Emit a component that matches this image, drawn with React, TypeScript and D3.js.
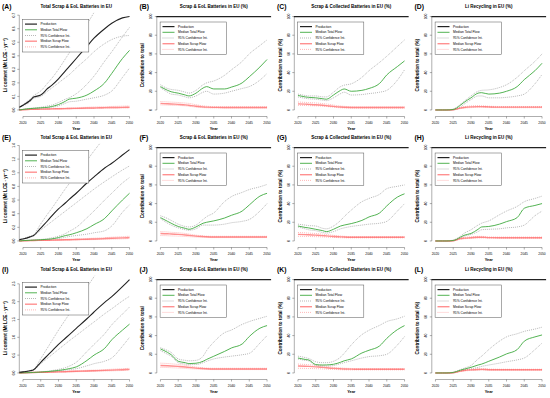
import * as d3 from 'd3'

// sample years shared by the panels (totals start one year earlier)
const YEARS = [2020, 2022, 2023, 2025, 2027, 2028, 2030, 2032, 2033, 2035, 2038, 2040, 2043, 2045, 2048, 2050]
const YEARS_T = [2019, ...YEARS]
const X_TICKS = [2020, 2025, 2030, 2035, 2040, 2045, 2050]
const PCT_TICKS = [0, 20, 40, 60, 80, 100]
const A_TICKS = [0, 0.1, 0.2, 0.3, 0.4, 0.5, 0.6, 0.7]
const E_TICKS = [0, 0.2, 0.4, 0.6, 0.8, 1.0, 1.2, 1.4]
const I_TICKS = [0, 0.5, 1.0, 1.5, 2.0, 2.5]

const LEGEND_LABELS = ['Production', 'Median Total Flow', '95% Confidence Int.', 'Median Scrap Flow', '95% Confidence Int.']

// (A)
const aProd = [0.02, 0.035, 0.07, 0.095, 0.11, 0.16, 0.18, 0.23, 0.29, 0.32, 0.38, 0.47, 0.53, 0.6, 0.64, 0.68, 0.69]
const aProdUp = [0.02, 0.04, 0.08, 0.105, 0.14, 0.2, 0.23, 0.3, 0.38, 0.42, 0.5, 0.63, 0.72, 0.85, 0.93, 1.05, 1.1]
const aProdLo = [0.02, 0.03, 0.06, 0.085, 0.1, 0.14, 0.16, 0.2, 0.24, 0.26, 0.31, 0.38, 0.43, 0.49, 0.52, 0.545, 0.55]
const aTotal = [0, 0.004, 0.01, 0.012, 0.016, 0.02, 0.025, 0.04, 0.065, 0.08, 0.087, 0.11, 0.14, 0.2, 0.27, 0.38, 0.44]
const aTotalUp = [0, 0.005, 0.012, 0.015, 0.02, 0.03, 0.035, 0.055, 0.08, 0.09, 0.12, 0.19, 0.25, 0.36, 0.43, 0.54, 0.61]
const aTotalLo = [0, 0.003, 0.008, 0.01, 0.013, 0.017, 0.02, 0.03, 0.05, 0.06, 0.065, 0.08, 0.09, 0.11, 0.14, 0.24, 0.31]
const aScrap = [0, 0.002, 0.004, 0.005, 0.006, 0.007, 0.008, 0.009, 0.01, 0.011, 0.012, 0.014, 0.015, 0.017, 0.018, 0.019, 0.02]
const aScrapUp = [0.001, 0.003, 0.005, 0.006, 0.008, 0.009, 0.01, 0.012, 0.014, 0.015, 0.017, 0.02, 0.022, 0.024, 0.026, 0.028, 0.03]
const aScrapLo = [0, 0.001, 0.003, 0.004, 0.005, 0.006, 0.006, 0.007, 0.008, 0.008, 0.009, 0.01, 0.011, 0.012, 0.013, 0.014, 0.014]

// (E)
const eProd = [0.02, 0.03, 0.06, 0.08, 0.19, 0.3, 0.36, 0.47, 0.56, 0.61, 0.7, 0.85, 0.94, 1.07, 1.14, 1.26, 1.34]
const eProdUp = [0.02, 0.035, 0.07, 0.09, 0.25, 0.4, 0.47, 0.62, 0.77, 0.84, 0.98, 1.18, 1.32, 1.52, 1.66, 1.86, 2.0]
const eProdLo = [0.02, 0.03, 0.055, 0.075, 0.16, 0.24, 0.28, 0.36, 0.44, 0.48, 0.56, 0.68, 0.76, 0.87, 0.94, 1.04, 1.1]
const eTotal = [0, 0.005, 0.01, 0.012, 0.018, 0.025, 0.03, 0.05, 0.08, 0.09, 0.12, 0.18, 0.24, 0.33, 0.44, 0.6, 0.7]
const eTotalUp = [0, 0.006, 0.012, 0.015, 0.022, 0.035, 0.045, 0.07, 0.11, 0.14, 0.2, 0.34, 0.44, 0.6, 0.7, 0.85, 0.93]
const eTotalLo = [0, 0.004, 0.008, 0.01, 0.014, 0.02, 0.025, 0.035, 0.055, 0.065, 0.08, 0.1, 0.12, 0.15, 0.22, 0.42, 0.53]
const eScrap = [0, 0.002, 0.005, 0.007, 0.009, 0.011, 0.012, 0.014, 0.017, 0.018, 0.021, 0.026, 0.029, 0.035, 0.039, 0.045, 0.05]
const eScrapUp = [0.001, 0.004, 0.007, 0.009, 0.012, 0.015, 0.017, 0.02, 0.024, 0.026, 0.03, 0.037, 0.041, 0.049, 0.055, 0.063, 0.07]
const eScrapLo = [0, 0.001, 0.003, 0.005, 0.006, 0.008, 0.008, 0.01, 0.012, 0.013, 0.015, 0.018, 0.02, 0.024, 0.027, 0.031, 0.035]

// (I)
const iProd = [0.02, 0.03, 0.06, 0.09, 0.3, 0.5, 0.6, 0.8, 0.98, 1.07, 1.25, 1.52, 1.71, 1.98, 2.14, 2.42, 2.62]
const iProdUp = [0.02, 0.035, 0.07, 0.1, 0.4, 0.72, 0.88, 1.2, 1.5, 1.65, 1.95, 2.4, 2.7, 3.15, 3.45, 3.9, 4.2]
const iProdLo = [0.02, 0.03, 0.055, 0.08, 0.26, 0.42, 0.5, 0.66, 0.82, 0.9, 1.05, 1.28, 1.43, 1.66, 1.8, 2.02, 2.15]
const iTotal = [0, 0.005, 0.01, 0.015, 0.025, 0.04, 0.05, 0.07, 0.1, 0.12, 0.17, 0.35, 0.5, 0.69, 0.93, 1.2, 1.37]
const iTotalUp = [0, 0.006, 0.012, 0.018, 0.03, 0.05, 0.065, 0.1, 0.15, 0.19, 0.3, 0.6, 0.8, 1.1, 1.35, 1.65, 1.85]
const iTotalLo = [0, 0.004, 0.008, 0.012, 0.02, 0.03, 0.04, 0.055, 0.08, 0.09, 0.12, 0.2, 0.26, 0.33, 0.42, 0.75, 1.0]
const iScrap = [0, 0.004, 0.01, 0.014, 0.018, 0.022, 0.025, 0.03, 0.036, 0.04, 0.046, 0.056, 0.062, 0.072, 0.08, 0.092, 0.1]
const iScrapUp = [0.001, 0.006, 0.013, 0.018, 0.024, 0.029, 0.033, 0.04, 0.047, 0.052, 0.06, 0.073, 0.081, 0.094, 0.104, 0.12, 0.13]
const iScrapLo = [0, 0.003, 0.007, 0.01, 0.013, 0.016, 0.018, 0.022, 0.027, 0.03, 0.034, 0.042, 0.046, 0.054, 0.06, 0.069, 0.075]

// (B)
const bTotal = [25, 21, 19.5, 18, 16, 15, 18, 23.5, 25, 22.5, 22.5, 24.5, 29, 35.5, 46, 54]
const bTotalUp = [27, 23, 22, 21, 19, 18, 21, 27, 29, 31, 37, 43, 52, 60, 69, 75]
const bTotalLo = [24, 19, 17, 16, 14, 13, 15, 19, 20, 17, 18, 20, 23, 25, 32, 39]
const bScrap = [7, 6.6, 6.4, 6, 5.5, 5, 4, 3.3, 3, 2.8, 2.7, 2.7, 2.7, 2.7, 2.7, 2.7]
const bScrapUp = [9, 8.6, 8.4, 8, 7.4, 7, 5.6, 4.4, 4, 3.6, 3.5, 3.5, 3.5, 3.5, 3.5, 3.5]
const bScrapLo = [5.5, 5.2, 5, 4.8, 4.4, 4, 3.1, 2.5, 2.3, 2.1, 2, 2, 2, 2, 2, 2]

// (C)
const cTotal = [15.5, 14, 13.5, 13, 12, 11.5, 16, 21, 22.5, 20, 21, 23, 28.5, 37.5, 46.5, 52.5]
const cTotalUp = [17, 15.5, 15, 15, 14, 14, 19, 25, 26.5, 28, 35, 42, 51, 57.5, 68, 75]
const cTotalLo = [14, 12.5, 12, 11.5, 10.5, 10, 13, 17.5, 19, 16, 16.5, 17.5, 19, 21, 32, 43]
const cScrap = [6.5, 6.2, 6, 5.6, 5, 4.6, 3.8, 3.1, 2.9, 2.7, 2.6, 2.6, 2.6, 2.6, 2.6, 2.6]
const cScrapUp = [8.5, 8.1, 7.9, 7.5, 6.8, 6.4, 5.2, 4.2, 3.9, 3.5, 3.4, 3.4, 3.4, 3.4, 3.4, 3.4]
const cScrapLo = [5, 4.8, 4.6, 4.4, 4, 3.7, 3, 2.3, 2.1, 2, 1.9, 1.9, 1.9, 1.9, 1.9, 1.9]

// (D)
const dTotal = [0, 0, 0, 0.5, 5, 8, 13, 18, 18.5, 17, 18, 20, 25, 32.5, 42, 50]
const dTotalUp = [0, 0, 0, 1, 6, 9, 15, 20, 21, 21.5, 24, 27, 35, 42, 52, 60]
const dTotalLo = [0, 0, 0, 0, 3, 6, 11, 15, 15, 13, 13, 13.5, 15, 17, 28, 38]
const dScrap = [0, 0, 0, 0.3, 2, 2.6, 3.3, 3.6, 3.6, 3.3, 3, 3, 3, 3, 3, 3]
const dScrapUp = [0, 0, 0, 0.5, 2.8, 3.5, 4.3, 4.6, 4.5, 4, 3.7, 3.6, 3.6, 3.6, 3.6, 3.6]
const dScrapLo = [0, 0, 0, 0.2, 1.4, 1.9, 2.5, 2.8, 2.8, 2.6, 2.5, 2.4, 2.4, 2.4, 2.4, 2.4]

// (F)
const fTotal = [25, 21, 19, 15.5, 13.5, 12.5, 15, 19, 20, 21.5, 24.5, 27.5, 32, 38.5, 48, 51]
const fTotalUp = [27, 24, 22, 18, 15.5, 15, 17, 23, 26, 30, 42, 47.5, 52, 55, 58, 60.5]
const fTotalLo = [24, 19, 17, 14, 12, 11.5, 13, 17, 17, 17, 18, 19.5, 21, 23, 32, 40]
const fScrap = [8, 7.7, 7.4, 7, 6.4, 6, 5.2, 4.7, 4.5, 4.3, 4.3, 4.3, 4.3, 4.3, 4.3, 4.3]
const fScrapUp = [10, 9.6, 9.3, 8.8, 8, 7.4, 6.2, 5.5, 5.2, 5, 5, 5, 5, 5, 5, 5]
const fScrapLo = [5.8, 5.6, 5.4, 5.2, 4.8, 4.6, 4.2, 3.8, 3.7, 3.6, 3.6, 3.6, 3.6, 3.6, 3.6, 3.6]

// (G)
const gTotal = [16, 14.5, 14, 12.5, 11, 10, 12.5, 16, 17, 18.6, 22, 25.7, 30, 37.5, 47, 50.5]
const gTotalUp = [18, 17, 16.5, 16, 13.5, 13, 16, 22, 26, 33, 42, 45.5, 50, 56, 58.5, 60]
const gTotalLo = [15, 13, 12, 11, 9, 8.5, 10, 13, 14, 15.5, 17, 18, 19, 21, 32, 40]
const gScrap = [7, 6.8, 6.6, 6.2, 5.7, 5.4, 4.8, 4.4, 4.2, 4, 4, 4, 4, 4, 4, 4]
const gScrapUp = [9, 8.7, 8.4, 8, 7.3, 6.9, 6, 5.3, 5, 4.7, 4.7, 4.7, 4.7, 4.7, 4.7, 4.7]
const gScrapLo = [5, 4.9, 4.8, 4.6, 4.3, 4.1, 3.8, 3.5, 3.4, 3.3, 3.3, 3.3, 3.3, 3.3, 3.3, 3.3]

// (H)
const hTotal = [0, 0, 0, 0.5, 4, 6, 8, 12.5, 15, 15.5, 18, 20.7, 25, 35, 38, 40]
const hTotalUp = [0, 0, 0, 1, 5, 8, 12, 17, 19, 21.5, 28, 32, 37, 42, 45.5, 48]
const hTotalLo = [0, 0, 0, 0, 3, 5, 7, 10, 12, 12.5, 13, 14, 15, 17, 27, 32]
const hScrap = [0, 0, 0, 0.3, 2.5, 3, 3.5, 4, 4, 3.6, 3.5, 3.5, 3.5, 3.5, 3.5, 3.5]
const hScrapUp = [0, 0, 0, 0.5, 3.2, 3.8, 4.4, 4.9, 4.9, 4.4, 4.2, 4.2, 4.2, 4.2, 4.2, 4.2]
const hScrapLo = [0, 0, 0, 0.2, 1.8, 2.3, 2.8, 3.2, 3.2, 2.9, 2.8, 2.8, 2.8, 2.8, 2.8, 2.8]

// (J)
const jTotal = [25.7, 22, 19.6, 12.5, 11, 10, 10.4, 12.5, 14.5, 17.9, 23, 26.8, 31, 39, 47.9, 50.7]
const jTotalUp = [27, 24, 22, 15, 13.5, 13, 13.5, 18, 24, 33, 43, 46, 52, 55, 58.5, 60.7]
const jTotalLo = [24, 20, 18, 11, 9.5, 9, 9, 11, 12.5, 15, 17, 18, 19.5, 21, 32, 40]
const jScrap = [8, 7.7, 7.5, 7, 6.4, 6, 5.2, 4.7, 4.5, 4.3, 4.3, 4.3, 4.3, 4.3, 4.3, 4.3]
const jScrapUp = [10.5, 10.1, 9.8, 9.1, 8.2, 7.6, 6.3, 5.5, 5.2, 5, 5, 5, 5, 5, 5, 5]
const jScrapLo = [6, 5.8, 5.6, 5.3, 4.9, 4.6, 4.2, 3.8, 3.7, 3.6, 3.6, 3.6, 3.6, 3.6, 3.6, 3.6]

// (K)
const kTotal = [16, 14.5, 14, 9, 8.5, 8.6, 9.3, 11.5, 13, 15, 21.4, 24.3, 29, 37, 46.4, 50.7]
const kTotalUp = [18, 16.5, 15.5, 12, 11, 11, 12.5, 17, 21, 30, 41, 45.7, 51, 55, 58, 60.7]
const kTotalLo = [15, 13.5, 13, 8, 7.5, 7.5, 8, 10, 11, 13, 16, 17.5, 18.5, 20, 30, 39]
const kScrap = [7.5, 7.2, 7, 6.5, 6, 5.6, 4.9, 4.5, 4.3, 4.1, 4, 4, 4, 4, 4, 4]
const kScrapUp = [9.5, 9.1, 8.8, 8.2, 7.5, 7, 6, 5.4, 5.1, 4.8, 4.7, 4.7, 4.7, 4.7, 4.7, 4.7]
const kScrapLo = [5, 4.9, 4.8, 4.6, 4.3, 4.1, 3.8, 3.5, 3.4, 3.3, 3.3, 3.3, 3.3, 3.3, 3.3, 3.3]

// (L)
const lTotal = [0, 0, 0, 0.5, 3, 4, 6, 8.5, 9.5, 12.5, 17, 20.4, 25, 34, 38.6, 40.7]
const lTotalUp = [0, 0, 0, 1, 3.5, 5, 8, 15, 18, 25, 34, 38.6, 42, 44.5, 47, 49]
const lTotalLo = [0, 0, 0, 0, 2, 3, 4.5, 6, 7, 8.5, 10.5, 12, 14, 16, 25, 32]
const lScrap = [0, 0, 0, 0.3, 2, 2.6, 3.3, 3.7, 3.8, 3.5, 3.4, 3.4, 3.4, 3.4, 3.4, 3.4]
const lScrapUp = [0, 0, 0, 0.5, 2.6, 3.3, 4, 4.5, 4.6, 4.2, 4, 4, 4, 4, 4, 4]
const lScrapLo = [0, 0, 0, 0.2, 1.5, 2, 2.7, 3, 3.1, 2.9, 2.8, 2.8, 2.8, 2.8, 2.8, 2.8]

type Panel = {
  label: string
  title: string
  ylab: string
  years: number[]
  ymax: number
  ticks: number[]
  fmt: (v: number) => string
  prod?: number[][]
  total: number[][]
  scrap: number[][]
}

const T_TOTAL = 'Total Scrap & EoL Batteries in EU'
const T_EOL = 'Scrap & EoL Batteries in EU (%)'
const T_COLL = 'Scrap & Collected Batteries in EU (%)'
const T_REC = 'Li Recycling in EU (%)'
const Y_LI = 'Li content (Mt LCE · yr⁻¹)'
const Y_PCT = 'Contribution to total (%)'
const Y_PCT2 = 'Contribution to total'

const f1 = (v: number) => v.toFixed(1)
const f0 = (v: number) => String(v)

const PANELS: Panel[] = [
  { label: '(A)', title: T_TOTAL, ylab: Y_LI, years: YEARS_T, ymax: 0.69, ticks: A_TICKS, fmt: f1, prod: [aProd, aProdUp, aProdLo], total: [aTotal, aTotalUp, aTotalLo], scrap: [aScrap, aScrapUp, aScrapLo] },
  { label: '(B)', title: T_EOL, ylab: Y_PCT2, years: YEARS, ymax: 100, ticks: PCT_TICKS, fmt: f0, total: [bTotal, bTotalUp, bTotalLo], scrap: [bScrap, bScrapUp, bScrapLo] },
  { label: '(C)', title: T_COLL, ylab: Y_PCT, years: YEARS, ymax: 100, ticks: PCT_TICKS, fmt: f0, total: [cTotal, cTotalUp, cTotalLo], scrap: [cScrap, cScrapUp, cScrapLo] },
  { label: '(D)', title: T_REC, ylab: Y_PCT, years: YEARS, ymax: 100, ticks: PCT_TICKS, fmt: f0, total: [dTotal, dTotalUp, dTotalLo], scrap: [dScrap, dScrapUp, dScrapLo] },
  { label: '(E)', title: T_TOTAL, ylab: Y_LI, years: YEARS_T, ymax: 1.37, ticks: E_TICKS, fmt: f1, prod: [eProd, eProdUp, eProdLo], total: [eTotal, eTotalUp, eTotalLo], scrap: [eScrap, eScrapUp, eScrapLo] },
  { label: '(F)', title: T_EOL, ylab: Y_PCT2, years: YEARS, ymax: 100, ticks: PCT_TICKS, fmt: f0, total: [fTotal, fTotalUp, fTotalLo], scrap: [fScrap, fScrapUp, fScrapLo] },
  { label: '(G)', title: T_COLL, ylab: Y_PCT, years: YEARS, ymax: 100, ticks: PCT_TICKS, fmt: f0, total: [gTotal, gTotalUp, gTotalLo], scrap: [gScrap, gScrapUp, gScrapLo] },
  { label: '(H)', title: T_REC, ylab: Y_PCT, years: YEARS, ymax: 100, ticks: PCT_TICKS, fmt: f0, total: [hTotal, hTotalUp, hTotalLo], scrap: [hScrap, hScrapUp, hScrapLo] },
  { label: '(I)', title: T_TOTAL, ylab: Y_LI, years: YEARS_T, ymax: 2.62, ticks: I_TICKS, fmt: f1, prod: [iProd, iProdUp, iProdLo], total: [iTotal, iTotalUp, iTotalLo], scrap: [iScrap, iScrapUp, iScrapLo] },
  { label: '(J)', title: T_EOL, ylab: Y_PCT2, years: YEARS, ymax: 100, ticks: PCT_TICKS, fmt: f0, total: [jTotal, jTotalUp, jTotalLo], scrap: [jScrap, jScrapUp, jScrapLo] },
  { label: '(K)', title: T_COLL, ylab: Y_PCT, years: YEARS, ymax: 100, ticks: PCT_TICKS, fmt: f0, total: [kTotal, kTotalUp, kTotalLo], scrap: [kScrap, kScrapUp, kScrapLo] },
  { label: '(L)', title: T_REC, ylab: Y_PCT, years: YEARS, ymax: 100, ticks: PCT_TICKS, fmt: f0, total: [lTotal, lTotalUp, lTotalLo], scrap: [lScrap, lScrapUp, lScrapLo] },
]

const PW = 137.5
const ROW_Y = [0, 131, 263]
const PLOT = { left: 18.7, right: 133.8, top: 12.8, bottom: 113.7 }
const FONT = '"Liberation Sans", Arial, sans-serif'

const BLACK = '#222'
const GREEN = '#3faa3f'
const GREY = '#9a9a9a'
const RED = 'rgba(255, 70, 70, 0.6)'
const PINK = '#ff9a9a'

const legendStyles = [
  { stroke: BLACK, width: 1.2, dash: undefined },
  { stroke: GREEN, width: 0.9, dash: undefined },
  { stroke: GREY, width: 0.7, dash: '1,1' },
  { stroke: RED, width: 1.4, dash: undefined },
  { stroke: PINK, width: 0.7, dash: '1,1' },
]

const PanelView = ({ p, idx }: { p: Panel; idx: number }) => {
  const x0 = (idx % 4) * PW
  const y0 = ROW_Y[Math.floor(idx / 4)]
  const pct = p.ymax === 100
  const x = d3.scaleLinear().domain([2018.8, 2051.2]).range([PLOT.left, PLOT.right])
  const y = d3.scaleLinear().domain([-0.04 * p.ymax, 1.04 * p.ymax]).range([PLOT.bottom, PLOT.top])
  const line = (vals: number[]) =>
    d3.line<number>().x((_, i) => x(p.years[i])).y(d => y(d)).curve(d3.curveMonotoneX)(vals) ?? ''
  const clipId = `clip-${idx}`
  const xAxisY = 116.5
  const axisX = PLOT.left + 0.6
  const legTop = pct ? 22 : 19.5
  const legRow = 5.7

  return (
    <g transform={`translate(${x0},${y0})`} fontFamily={FONT}>
      <defs>
        <clipPath id={clipId}>
          <rect x={PLOT.left} y={PLOT.top} width={PLOT.right - PLOT.left} height={PLOT.bottom - PLOT.top} />
        </clipPath>
      </defs>
      <text x={2} y={8.5} fontSize={6.8} fontWeight="bold">{p.label}</text>
      <text x={(PLOT.left + PLOT.right) / 2} y={7.6} fontSize={4.5} fontWeight="bold" textAnchor="middle">{p.title}</text>

      <g clipPath={`url(#${clipId})`} fill="none">
        {pct ? (
          <line x1={PLOT.left} x2={PLOT.right} y1={y(100)} y2={y(100)} stroke={BLACK} strokeWidth={1.2} />
        ) : null}
        {p.prod ? (
          <>
            <path d={line(p.prod[1])} stroke={GREY} strokeWidth={0.7} strokeDasharray="1,1" />
            <path d={line(p.prod[2])} stroke={GREY} strokeWidth={0.7} strokeDasharray="1,1" />
          </>
        ) : null}
        <path d={line(p.total[1])} stroke={GREY} strokeWidth={0.7} strokeDasharray="1,1" />
        <path d={line(p.total[2])} stroke={GREY} strokeWidth={0.7} strokeDasharray="1,1" />
        <path d={line(p.scrap[1])} stroke={PINK} strokeWidth={0.7} strokeDasharray="1,1" />
        <path d={line(p.scrap[2])} stroke={PINK} strokeWidth={0.7} strokeDasharray="1,1" />
        <path d={line(p.scrap[0])} stroke={RED} strokeWidth={1.4} />
        <path d={line(p.total[0])} stroke={GREEN} strokeWidth={0.9} />
        {p.prod ? <path d={line(p.prod[0])} stroke={BLACK} strokeWidth={1.1} /> : null}
      </g>

      {/* y axis */}
      <g stroke="#333" strokeWidth={0.4}>
        <line x1={axisX} x2={axisX} y1={y(p.ticks[0])} y2={y(p.ticks[p.ticks.length - 1])} />
        {p.ticks.map(t => (
          <line key={t} x1={axisX - 2} x2={axisX} y1={y(t)} y2={y(t)} />
        ))}
      </g>
      {p.ticks.map(t => (
        <text key={t} transform={`translate(13.4,${y(t)}) rotate(-90)`} dy="0.35em" fontSize={3.3} textAnchor="middle">
          {p.fmt(t)}
        </text>
      ))}
      <text transform={`translate(5,${(PLOT.top + PLOT.bottom) / 2 + 2}) rotate(-90)`} dy="0.35em" fontSize={4.6} fontWeight="bold" textAnchor="middle">
        {p.ylab}
      </text>

      {/* x axis */}
      <g stroke="#333" strokeWidth={0.4}>
        <line x1={x(X_TICKS[0])} x2={x(X_TICKS[X_TICKS.length - 1])} y1={xAxisY} y2={xAxisY} />
        {X_TICKS.map(t => (
          <line key={t} x1={x(t)} x2={x(t)} y1={xAxisY} y2={xAxisY + 2} />
        ))}
      </g>
      {X_TICKS.map(t => (
        <text key={t} x={x(t)} y={124.2} fontSize={3.3} textAnchor="middle">{t}</text>
      ))}
      <text x={(PLOT.left + PLOT.right) / 2} y={129.8} fontSize={3.9} fontWeight="bold" textAnchor="middle">Year</text>

      {/* legend */}
      <rect x={22.6} y={legTop} width={66.2} height={32.5} fill="white" stroke="#555" strokeWidth={0.5} />
      {LEGEND_LABELS.map((lab, i) => {
        const s = legendStyles[i]
        const ly = legTop + 4.6 + i * legRow
        return (
          <g key={i}>
            <line x1={25} x2={37} y1={ly} y2={ly} stroke={s.stroke} strokeWidth={s.width} strokeDasharray={s.dash} />
            <text x={40.5} y={ly} dy="0.35em" fontSize={3.3}>{lab}</text>
          </g>
        )
      })}
    </g>
  )
}

const App = () => (
  <svg width={550} height={398} style={{ position: 'absolute', left: 0, top: 0, background: 'white' }}>
    <rect width={550} height={398} fill="white" />
    {PANELS.map((p, i) => (
      <PanelView key={p.label} p={p} idx={i} />
    ))}
  </svg>
)

export default App
